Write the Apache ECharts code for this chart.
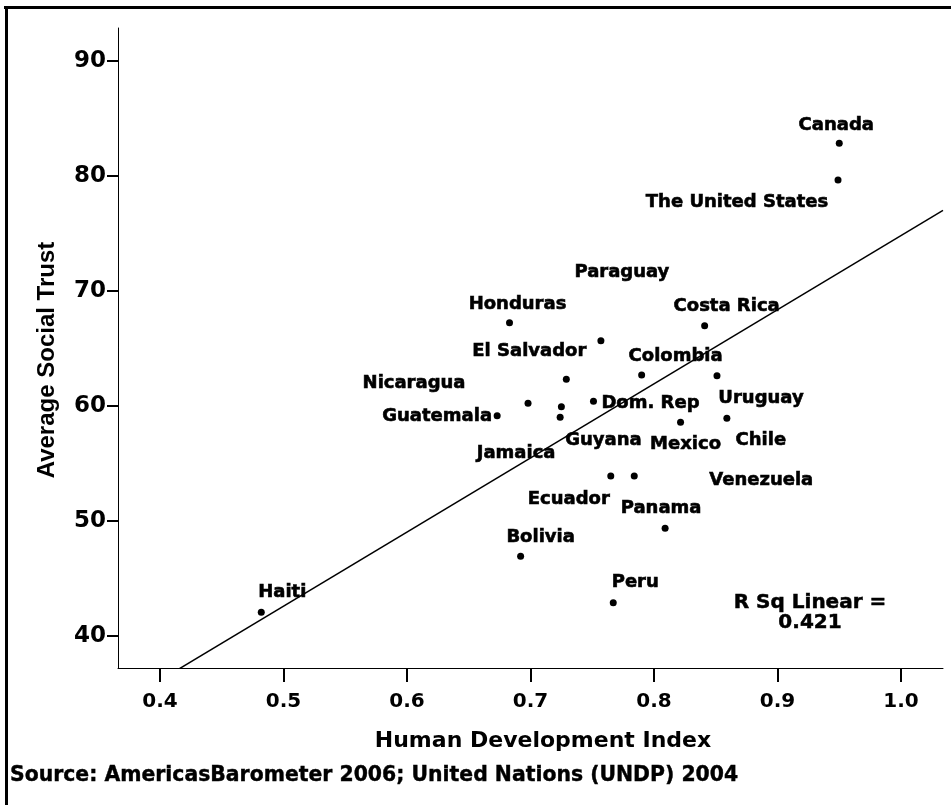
<!DOCTYPE html>
<html>
<head>
<meta charset="utf-8">
<script src="https://cdn.jsdelivr.net/npm/echarts@6/dist/echarts.min.js"></script>
<style>
  html, body { margin: 0; padding: 0; background: #fff; }
  #chart { width: 951px; height: 805px; }
</style>
</head>
<body>
<div id="chart"></div>
<script>
// HDI vs social trust, one point per country
var countries = ['Canada', 'The United States', 'Chile', 'Uruguay', 'Costa Rica', 'Mexico', 'Panama',
    'Colombia', 'Venezuela', 'Peru', 'Ecuador', 'Paraguay', 'Dom. Rep', 'El Salvador', 'Guyana',
    'Jamaica', 'Nicaragua', 'Bolivia', 'Honduras', 'Guatemala', 'Haiti'];
var hdi = [0.950, 0.949, 0.859, 0.851, 0.841, 0.8215, 0.809, 0.790, 0.784, 0.767, 0.765, 0.757,
    0.751, 0.729, 0.725, 0.724, 0.698, 0.692, 0.683, 0.673, 0.482];
var trust = [82.84, 79.65, 58.93, 62.63, 66.98, 58.58, 49.37, 62.70, 53.91, 42.90, 53.91, 65.68,
    60.41, 62.32, 59.94, 59.02, 60.23, 46.93, 67.24, 59.16, 42.06];
var xTicks = [0.4, 0.5, 0.6, 0.7, 0.8, 0.9, 1.0];
var yTicks = [40, 50, 60, 70, 80, 90];
var rSquared = '0.421';

// where each label sits relative to its dot (px)
var labelOffset = {
    'Canada': [-3, -18], 'The United States': [-101, 22], 'Chile': [34, 22], 'Uruguay': [44, 23],
    'Costa Rica': [22, -19], 'Mexico': [5, 22], 'Panama': [-4, -20], 'Colombia': [34, -19],
    'Venezuela': [127, 4], 'Peru': [22, -20], 'Ecuador': [-42, 23], 'Paraguay': [21, -68],
    'Dom. Rep': [57, 2], 'El Salvador': [-37, -28], 'Guyana': [42, 34], 'Jamaica': [-44, 36],
    'Nicaragua': [-114, -20], 'Bolivia': [20, -19], 'Honduras': [8, -18], 'Guatemala': [-60, 1],
    'Haiti': [21, -20]
};

var xMin = 0.366, xMax = 1.034;
var yMin = 37.22, yMax = 92.87;

var wide = '"DejaVu Sans", Verdana, sans-serif';
var plain = '"Liberation Sans", Arial, sans-serif';

var points = countries.map(function (c, i) {
    return {
        name: c,
        value: [hdi[i], trust[i]],
        label: { offset: labelOffset[c] }
    };
});

// least squares fit line
var n = hdi.length, mx = 0, my = 0;
for (var i = 0; i < n; i++) { mx += hdi[i]; my += trust[i]; }
mx /= n; my /= n;
var sxy = 0, sxx = 0;
for (var i = 0; i < n; i++) {
    sxy += (hdi[i] - mx) * (trust[i] - my);
    sxx += (hdi[i] - mx) * (hdi[i] - mx);
}
var slope = sxy / sxx;
var icpt = my - slope * mx;
var fitLine = [[xMin, icpt + slope * xMin], [xMax, icpt + slope * xMax]];

var chart = echarts.init(document.getElementById('chart'));
var option = {
    backgroundColor: '#fff',
    animation: false,
    grid: { left: 118, right: 8, top: 28, bottom: 137 },
    xAxis: {
        type: 'value',
        min: xMin,
        max: xMax,
        axisLine: { onZero: false, lineStyle: { color: '#000', width: 1 } },
        axisTick: { customValues: xTicks, length: 14, lineStyle: { color: '#000', width: 2 } },
        axisLabel: {
            customValues: xTicks,
            margin: 24,
            color: '#000', fontFamily: wide, fontWeight: 'bold', fontSize: 20,
            formatter: function (v) { return v.toFixed(1); }
        },
        splitLine: { show: false }
    },
    yAxis: {
        type: 'value',
        min: yMin,
        max: yMax,
        axisLine: { onZero: false, lineStyle: { color: '#000', width: 1 } },
        axisTick: { customValues: yTicks, length: 11, lineStyle: { color: '#000', width: 2 } },
        axisLabel: {
            customValues: yTicks,
            margin: 12,
            color: '#000', fontFamily: wide, fontWeight: 'bold', fontSize: 23
        },
        splitLine: { show: false }
    },
    series: [
        {
            type: 'line',
            data: fitLine,
            symbol: 'none',
            clip: true,
            lineStyle: { color: '#000', width: 1.5 },
            silent: true
        },
        {
            type: 'scatter',
            data: points,
            symbol: 'circle',
            symbolSize: 7,
            itemStyle: { color: '#000', opacity: 1 },
            label: {
                show: true,
                position: 'inside',
                formatter: '{b}',
                color: '#000',
                fontFamily: wide,
                fontWeight: 'bold',
                fontSize: 18,
                textBorderColor: '#000',
                textBorderWidth: 0.6
            }
        }
    ],
    graphic: [
        { type: 'line', shape: { x1: 4, y1: 7.5, x2: 951, y2: 7.5 }, style: { stroke: '#000', lineWidth: 3 } },
        { type: 'line', shape: { x1: 6.5, y1: 6, x2: 6.5, y2: 805 }, style: { stroke: '#000', lineWidth: 3 } },
        {
            type: 'text', x: 47, y: 360, rotation: Math.PI / 2,
            style: { text: 'Average Social Trust', fill: '#000', align: 'center', verticalAlign: 'middle',
                font: 'bold 24px ' + plain }
        },
        {
            type: 'text', x: 543, y: 741,
            style: { text: 'Human Development Index', fill: '#000', align: 'center', verticalAlign: 'middle',
                font: 'bold 22px ' + wide }
        },
        {
            type: 'text', x: 10, y: 776,
            style: { text: 'Source: AmericasBarometer 2006; United Nations (UNDP) 2004', fill: '#000',
                verticalAlign: 'middle', font: 'bold 20.4px ' + wide, stroke: '#000', lineWidth: 0.4 }
        },
        {
            type: 'text', x: 810, y: 613,
            style: { text: 'R Sq Linear =\n' + rSquared, fill: '#000', align: 'center', verticalAlign: 'middle',
                lineHeight: 20, font: 'bold 20px ' + wide, stroke: '#000', lineWidth: 0.5 }
        }
    ]
};
chart.setOption(option);
</script>
</body>
</html>
